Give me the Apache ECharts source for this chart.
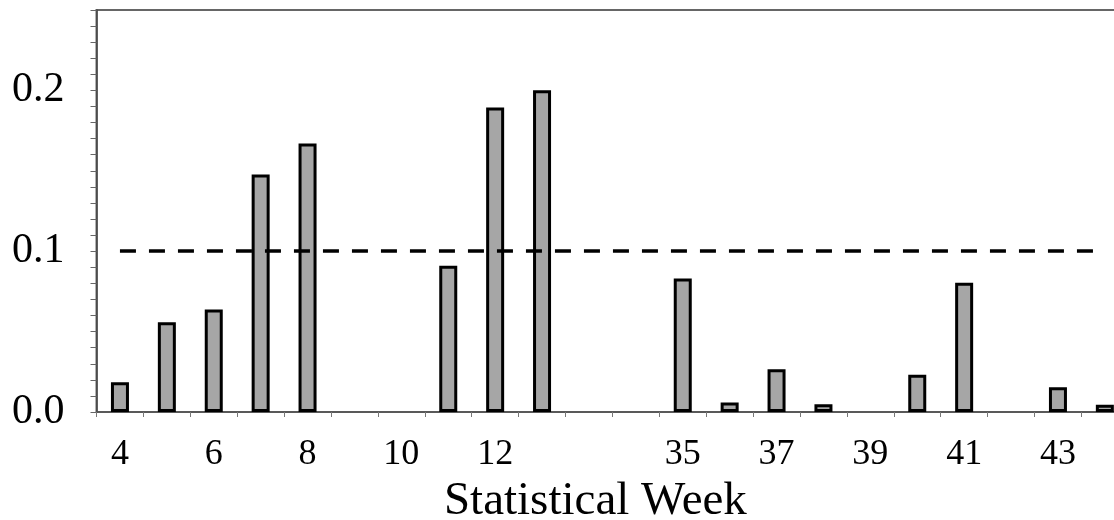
<!DOCTYPE html>
<html>
<head>
<meta charset="utf-8">
<script src="https://cdn.jsdelivr.net/npm/echarts@6/dist/echarts.min.js"></script>
<style>
  html, body { margin: 0; padding: 0; background: #fff; }
  #chart { width: 1114px; height: 520px; }
</style>
</head>
<body>
<div id="chart"></div>
<script>
// statistical weeks, the two blank slots mark the break between 13 and 35
var weeks = ['4', '5', '6', '7', '8', '9', '10', '11', '12', '13', '', ' ',
             '35', '36', '37', '38', '39', '40', '41', '42', '43', '44'];
var values = [0.0185, 0.0558, 0.0637, 0.1477, 0.167, null, null, 0.091, 0.1893, 0.2001, null, null,
              0.0831, 0.0059, 0.0266, 0.0048, null, 0.0231, 0.0804, null, 0.0154, 0.0045];
var threshold = 0.1;
var yTicks = [0, 0.1, 0.2];

var myChart = echarts.init(document.getElementById('chart'));

var font = 'Liberation Serif';

option = {
    animation: false,
    grid: {
        left: 96.5,
        top: 10,
        width: 1031.8,
        height: 402,
        outerBoundsMode: 'none',
        show: true,
        borderColor: '#666',
        borderWidth: 2
    },
    xAxis: {
        type: 'category',
        data: weeks,
        name: 'Statistical Week',
        nameLocation: 'middle',
        nameGap: 66,
        nameTextStyle: {
            fontFamily: font,
            fontSize: 47,
            color: '#000',
            padding: [0, 34, 0, 0]
        },
        axisLine: { lineStyle: { color: '#555', width: 1.5 } },
        axisTick: { show: true, interval: 0, length: 5, lineStyle: { color: '#777' } },
        axisLabel: {
            interval: 1,
            margin: 25,
            fontFamily: font,
            fontSize: 36,
            color: '#000'
        },
        splitLine: { show: false }
    },
    yAxis: {
        type: 'value',
        min: 0,
        max: 0.25,
        interval: 0.01,
        axisLine: { show: true, lineStyle: { color: '#444', width: 1.5 } },
        axisTick: { show: true, length: 6, lineStyle: { color: '#666' } },
        axisLabel: {
            margin: 32,
            fontFamily: font,
            fontSize: 42,
            color: '#000',
            formatter: function (v) {
                var r = Math.round(v * 100) / 100;
                for (var i = 0; i < yTicks.length; i++) {
                    if (Math.abs(r - yTicks[i]) < 1e-6) return yTicks[i].toFixed(1);
                }
                return '';
            }
        },
        splitLine: { show: false }
    },
    series: [
        {
            type: 'bar',
            data: values,
            barWidth: 18,
            itemStyle: {
                color: '#a6a6a6',
                borderColor: '#000',
                borderWidth: 3
            },
            markLine: {
                silent: true,
                symbol: 'none',
                label: { show: false },
                lineStyle: { color: '#000', width: 3.5, type: [16, 13] },
                data: [[
                    { coord: [weeks[0], threshold] },
                    { coord: [weeks[weeks.length - 1], threshold] }
                ]]
            }
        }
    ]
};

myChart.setOption(option);
</script>
</body>
</html>
